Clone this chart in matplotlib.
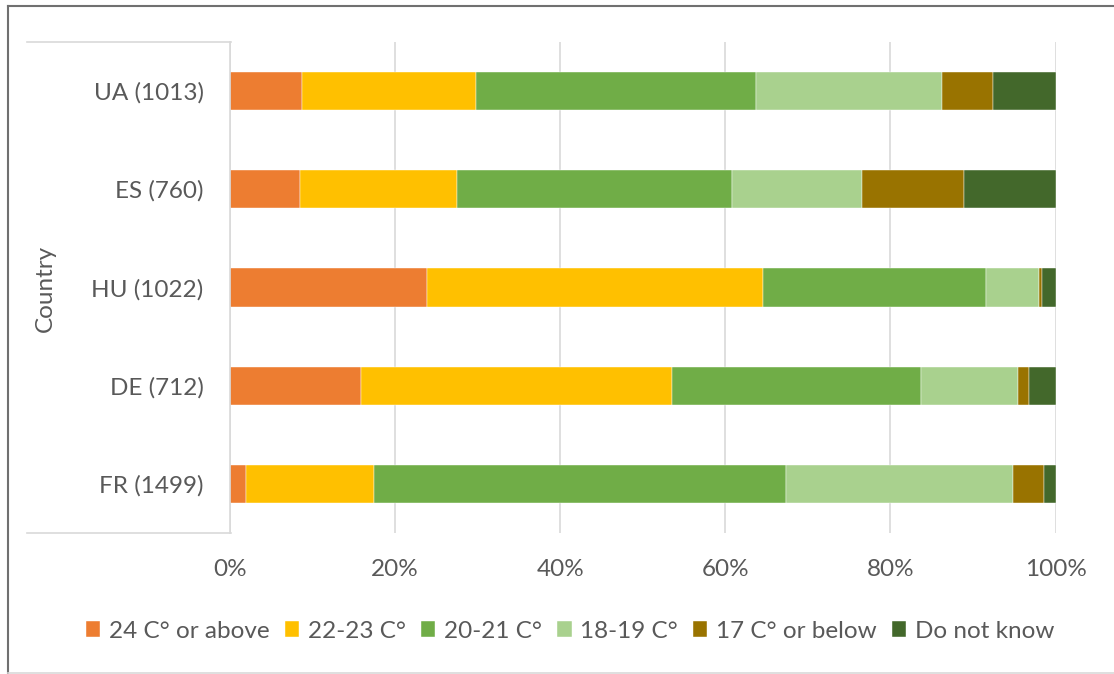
import matplotlib
matplotlib.use("Agg")
import matplotlib.pyplot as plt
from matplotlib.lines import Line2D
import numpy as np

# dados (percentagem por país)
paises = ["FR (1499)", "DE (712)", "HU (1022)", "ES (760)", "UA (1013)"]
categorias = ["24 C° or above", "22-23 C°", "20-21 C°", "18-19 C°", "17 C° or below", "Do not know"]
cores = ["#ED7D31", "#FFC000", "#70AD47", "#A9D18E", "#997300", "#43682B"]

acima_24 = [1.9, 15.9, 23.9, 8.5, 8.7]
de_22_23 = [15.6, 37.6, 40.7, 19.0, 21.1]
de_20_21 = [49.9, 30.2, 27.0, 33.3, 33.9]
de_18_19 = [27.4, 11.8, 6.4, 15.7, 22.5]
abaixo_17 = [3.8, 1.3, 0.4, 12.4, 6.2]
nao_sabe = [1.4, 3.2, 1.6, 11.1, 7.6]

series = [acima_24, de_22_23, de_20_21, de_18_19, abaixo_17, nao_sabe]
ticks_x = [0, 20, 40, 60, 80, 100]

W, H = 1114, 674
plt.rcParams["font.family"] = ["Lato", "DejaVu Sans"]
cinza = "#595959"
grade = "#D9D9D9"

fig = plt.figure(figsize=(W / 100, H / 100), dpi=100)
ax = fig.add_axes([230 / W, (H - 533) / H, (1055.5 - 230) / W, (533 - 42) / H])

y = np.arange(len(paises))
esquerda = np.zeros(len(paises))
for vals, cor, nome in zip(series, cores, categorias):
    vals = np.array(vals)
    ax.barh(y, vals, left=esquerda, height=0.39, color=cor, label=nome,
            edgecolor="white", linewidth=0.3, zorder=3)
    esquerda += vals

ax.set_xlim(0, 100)
ax.set_ylim(-0.5, len(paises) - 0.5)
ax.set_xticks(ticks_x)
ax.set_xticklabels([f"{t}%" for t in ticks_x])
ax.set_yticks(y)
ax.set_yticklabels(paises)
ax.tick_params(axis="x", length=0, pad=19, labelsize=17.5, colors=cinza)
ax.tick_params(axis="y", length=0, pad=19, labelsize=17.5, colors=cinza)
ax.grid(axis="x", color=grade, linewidth=1.2, zorder=0)
for lado in ["top", "right", "bottom"]:
    ax.spines[lado].set_visible(False)
ax.spines["left"].set_color(grade)
ax.spines["left"].set_linewidth(1.2)
ax.spines["left"].set_zorder(4)

# caixa das categorias (estilo excel)
def px(x, yy):
    return x / W, 1 - yy / H

for yy in [42, 533]:
    (x0, y0), (x1, y1) = px(27, yy), px(231, yy)
    fig.add_artist(Line2D([x0, x1], [y0, y1], color=grade, linewidth=1.2))

fig.text(*px(45, 288), "Country", rotation=90, ha="center", va="center",
         fontsize=17.5, color=cinza)

# moldura externa
(xa, ya), (xb, yb) = px(8, 6), px(1114, 673)
fig.add_artist(Line2D([xa, xb], [ya, ya], color="#707070", linewidth=1.5))
fig.add_artist(Line2D([xa, xa], [ya, yb], color="#707070", linewidth=1.5))
fig.add_artist(Line2D([xa, xb], [yb, yb], color=grade, linewidth=1.2))

handles, labels = ax.get_legend_handles_labels()
fig.legend(handles, labels, loc="center", bbox_to_anchor=px(570, 631), ncol=6,
           frameon=False, fontsize=17.5, labelcolor=cinza, handlelength=0.6,
           handleheight=0.6, handletextpad=0.35, columnspacing=0.62, borderpad=0)

fig.savefig("out.png", dpi=100)
